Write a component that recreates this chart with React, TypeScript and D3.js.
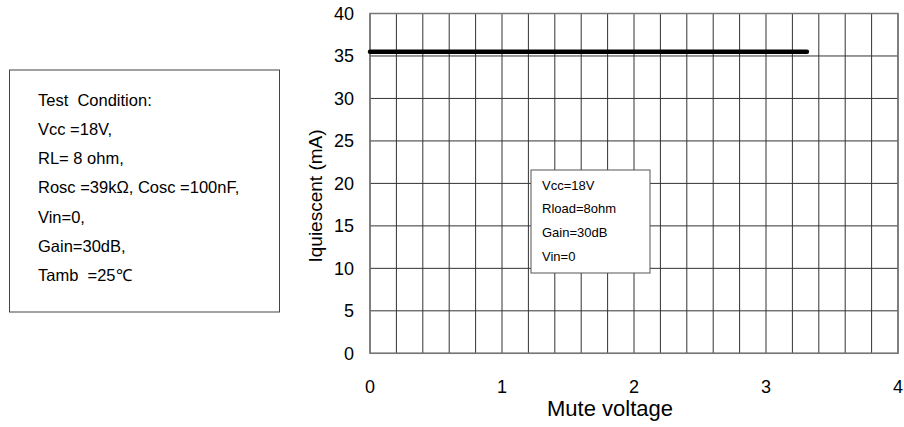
import React from "react";
import * as d3 from "d3";

const xTicks = [0, 1, 2, 3, 4];
const yTicks = [0, 5, 10, 15, 20, 25, 30, 35, 40];
const xGrid = d3.range(0, 21).map((i) => i * 0.2);
const seriesX = [0, 3.31];
const seriesY = [35.5, 35.5];
const conditionLines = [
  "Test  Condition:",
  "Vcc =18V,",
  "RL= 8 ohm,",
  "Rosc =39k\u03A9, Cosc =100nF,",
  "Vin=0,",
  "Gain=30dB,",
  "Tamb  =25\u2103",
];
const legendLines = ["Vcc=18V", "Rload=8ohm", "Gain=30dB", "Vin=0"];

export default function App() {
  const W = 904, H = 427;
  const x = d3.scaleLinear().domain([0, 4]).range([370, 898]);
  const y = d3.scaleLinear().domain([0, 40]).range([353.3, 13.5]);
  const line = d3.line<number>().x((d) => x(seriesX[d])).y((d) => y(seriesY[d]));
  const font = "Arial, 'Liberation Sans', sans-serif";
  return (
    <svg width={W} height={H} style={{ position: "absolute", left: 0, top: 0 }} fontFamily={font}>
      <rect width={W} height={H} fill="#fff" />
      {xGrid.map((v, i) => (
        <line key={"xg" + i} x1={x(v)} x2={x(v)} y1={y(0)} y2={y(40)} stroke="#333" strokeWidth={1} />
      ))}
      {yTicks.map((v) => (
        <line key={"yg" + v} x1={x(0)} x2={x(4)} y1={y(v)} y2={y(v)} stroke="#333" strokeWidth={1} />
      ))}
      <rect x={x(0)} y={y(40)} width={x(4) - x(0)} height={y(0) - y(40)} fill="none" stroke="#777" strokeWidth={1.5} />
      <path d={line(d3.range(seriesX.length)) || ""} stroke="#000" strokeWidth={4.5} strokeLinecap="round" fill="none" />
      {yTicks.map((v) => (
        <text key={"yt" + v} x={354} y={y(v)} dy="0.35em" textAnchor="end" fontSize={18}>{v}</text>
      ))}
      {xTicks.map((v) => (
        <text key={"xt" + v} x={x(v)} y={387} dy="0.35em" textAnchor="middle" fontSize={18}>{v}</text>
      ))}
      <text x={547} y={408} dy="0.35em" textAnchor="start" fontSize={22}>Mute voltage</text>
      <text transform={`translate(315,${196}) rotate(-90)`} dy="0.35em" textAnchor="middle" fontSize={19}>Iquiescent (mA)</text>
      <rect x={531} y={170} width={119} height={103} fill="#fff" stroke="#555" strokeWidth={1} />
      {legendLines.map((t, i) => (
        <text key={"lg" + i} x={542} y={185 + i * 23.8} dy="0.35em" fontSize={13}>{t}</text>
      ))}
      <rect x={9.5} y={70} width={270} height={242} fill="#fff" stroke="#444" strokeWidth={1} />
      {conditionLines.map((t, i) => (
        <text key={"cl" + i} x={38} y={100 + i * 29.2} dy="0.35em" fontSize={16.5} style={{ whiteSpace: "pre" }}>{t}</text>
      ))}
    </svg>
  );
}
